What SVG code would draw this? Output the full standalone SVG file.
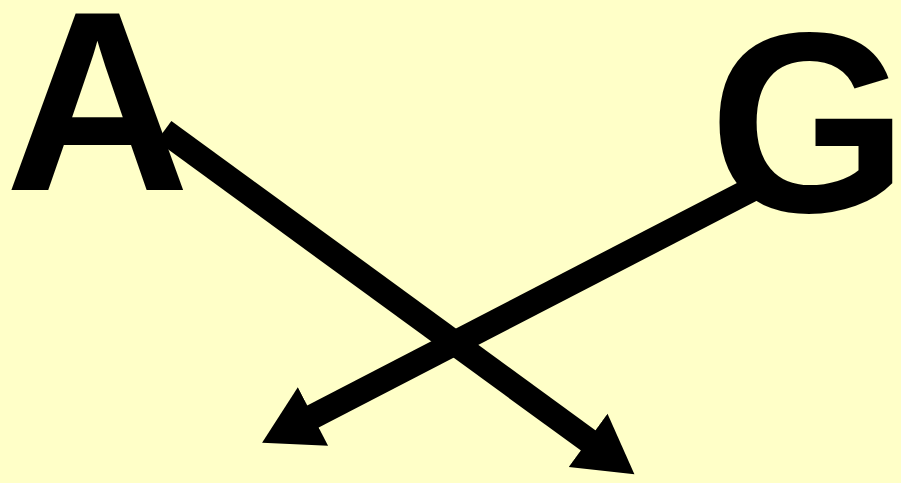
<svg xmlns="http://www.w3.org/2000/svg" width="901" height="483" viewBox="0 0 901 483">
  <style>
    .lbl { font-family: "Liberation Sans", Arial, sans-serif; font-weight: bold; font-size: 256px; fill: #000; }
    .edge { stroke: #000; stroke-width: 25; fill: none; stroke-linecap: butt; }
  </style>
  <defs>
    <marker id="head" markerUnits="userSpaceOnUse" markerWidth="60" markerHeight="70" viewBox="0 -33 56 66" refX="1" refY="0" orient="auto">
      <path d="M0,-31 L54,0 L0,31 z" fill="#000"/>
    </marker>
  </defs>
  <rect width="901" height="483" fill="#FFFFC8"/>
  <g id="node-A"><text class="lbl" x="5" y="190">A</text></g>
  <g id="node-G"><text class="lbl" x="709" y="212">G</text></g>
  <g id="edges">
    <line class="edge" x1="164" y1="131" x2="589" y2="441" marker-end="url(#head)"/>
    <line class="edge" x1="762" y1="184" x2="312" y2="417" marker-end="url(#head)"/>
  </g>
</svg>
